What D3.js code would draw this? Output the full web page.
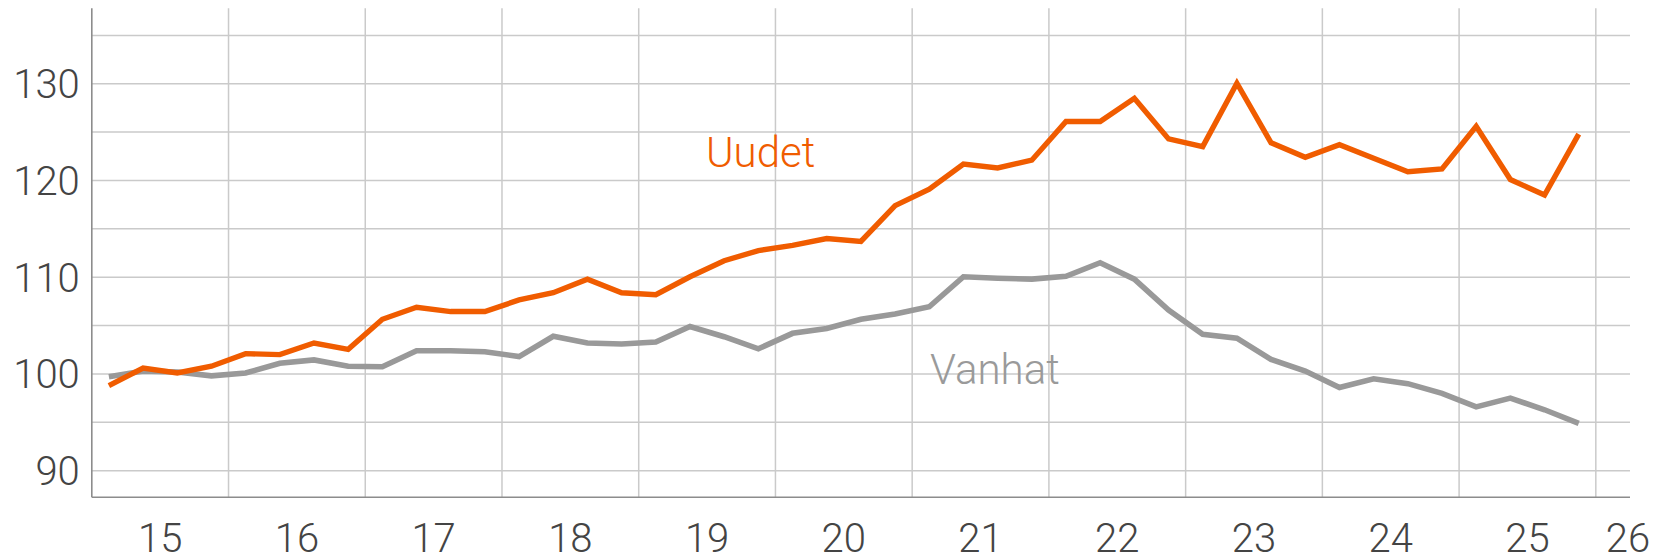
<!DOCTYPE html>
<html>
<head>
<meta charset="utf-8">
<script src="https://cdn.jsdelivr.net/npm/d3@7"></script>
<style>
  body { margin: 0; background: #fff; }
  svg text { font-family: Roboto, "DejaVu Sans", sans-serif; font-weight: 300; }
</style>
</head>
<body>
<div class="chart"></div>
<script>
// quarterly index values, 2015 Q1 - 2025 Q4
let years = ["15", "16", "17", "18", "19", "20", "21", "22", "23", "24", "25", "26"];

let uudet = [98.8, 100.6, 100.1, 100.8, 102.1, 102.0, 103.2, 102.55,
  105.65, 106.9, 106.45, 106.45, 107.65, 108.4, 109.8, 108.4,
  108.2, 110.05, 111.7, 112.75, 113.3, 114.0, 113.7, 117.4,
  119.1, 121.7, 121.3, 122.1, 126.1, 126.1, 128.5, 124.3,
  123.5, 130.05, 123.9, 122.4, 123.7, 122.3, 120.9, 121.2,
  125.6, 120.1, 118.5, 124.8];

let vanhat = [99.7, 100.3, 100.2, 99.8, 100.1, 101.1, 101.45, 100.8,
  100.75, 102.4, 102.4, 102.3, 101.8, 103.9, 103.2, 103.1,
  103.3, 104.9, 103.85, 102.6, 104.2, 104.7, 105.65, 106.2,
  106.95, 110.05, 109.9, 109.8, 110.1, 111.5, 109.8, 106.6,
  104.1, 103.7, 101.5, 100.3, 98.6, 99.5, 99.0, 98.0,
  96.6, 97.5, 96.3, 94.9];

let yTicks = [90, 100, 110, 120, 130];
let yGrid = [90, 95, 100, 105, 110, 115, 120, 125, 130, 135];

let w = 1654;
let h = 556;
let margin = { top: 8.3, right: 24, bottom: 58.7, left: 91.8 };

let orange = "#f05c00";
let grey = "#999999";

let svg = d3.select(".chart")
            .append("svg")
            .attr("width", w)
            .attr("height", h);

// x runs in quarters, 45 quarters wide (plot ends a quarter into 2026)
let xScale = d3.scaleLinear([0, 45], [margin.left, w - margin.right]);
let yScale = d3.scaleLinear([87.25, 137.8], [h - margin.bottom, margin.top]);

// horizontal grid
svg.append("g")
   .selectAll("line")
   .data(yGrid)
   .enter()
   .append("line")
   .attr("x1", margin.left)
   .attr("x2", w - margin.right)
   .attr("y1", (d) => yScale(d))
   .attr("y2", (d) => yScale(d))
   .attr("stroke", "#cacaca")
   .attr("stroke-width", 1.5);

// vertical grid at year boundaries
svg.append("g")
   .selectAll("line")
   .data(years.slice(1))
   .enter()
   .append("line")
   .attr("x1", (d, i) => xScale((i + 1) * 4))
   .attr("x2", (d, i) => xScale((i + 1) * 4))
   .attr("y1", margin.top)
   .attr("y2", h - margin.bottom)
   .attr("stroke", "#cacaca")
   .attr("stroke-width", 1.5);

// axis lines
svg.append("line")
   .attr("x1", margin.left).attr("x2", margin.left)
   .attr("y1", margin.top).attr("y2", h - margin.bottom)
   .attr("stroke", "#8c8c8c")
   .attr("stroke-width", 1.6);

svg.append("line")
   .attr("x1", margin.left).attr("x2", w - margin.right)
   .attr("y1", h - margin.bottom).attr("y2", h - margin.bottom)
   .attr("stroke", "#8c8c8c")
   .attr("stroke-width", 1.6);

// y labels
svg.append("g")
   .selectAll("text")
   .data(yTicks)
   .enter()
   .append("text")
   .attr("x", margin.left - 12)
   .attr("y", (d) => yScale(d))
   .attr("dy", "0.36em")
   .attr("text-anchor", "end")
   .attr("fill", "#444")
   .style("font-size", "40px")
   .text((d) => d);

// x labels centred in each year, last one kept inside the picture
svg.append("g")
   .selectAll("text")
   .data(years)
   .enter()
   .append("text")
   .attr("x", (d, i) => Math.min(xScale(i * 4 + 2), w - 26))
   .attr("y", 551.7)
   .attr("text-anchor", "middle")
   .attr("fill", "#444")
   .style("font-size", "40px")
   .text((d) => d);

let line = d3.line()
             .x((d, i) => xScale(i + 0.5))
             .y((d) => yScale(d));

svg.append("path")
   .datum(vanhat)
   .attr("d", line)
   .attr("fill", "none")
   .attr("stroke", grey)
   .attr("stroke-width", 5.6);

svg.append("path")
   .datum(uudet)
   .attr("d", line)
   .attr("fill", "none")
   .attr("stroke", orange)
   .attr("stroke-width", 5.4);

// series labels
svg.append("text")
   .attr("x", 706)
   .attr("y", 166.7)
   .attr("fill", orange)
   .style("font-size", "42px")
   .text("Uudet");

svg.append("text")
   .attr("x", 930)
   .attr("y", 384)
   .attr("fill", "#9a9a9a")
   .style("font-size", "42px")
   .text("Vanhat");
</script>
</body>
</html>
